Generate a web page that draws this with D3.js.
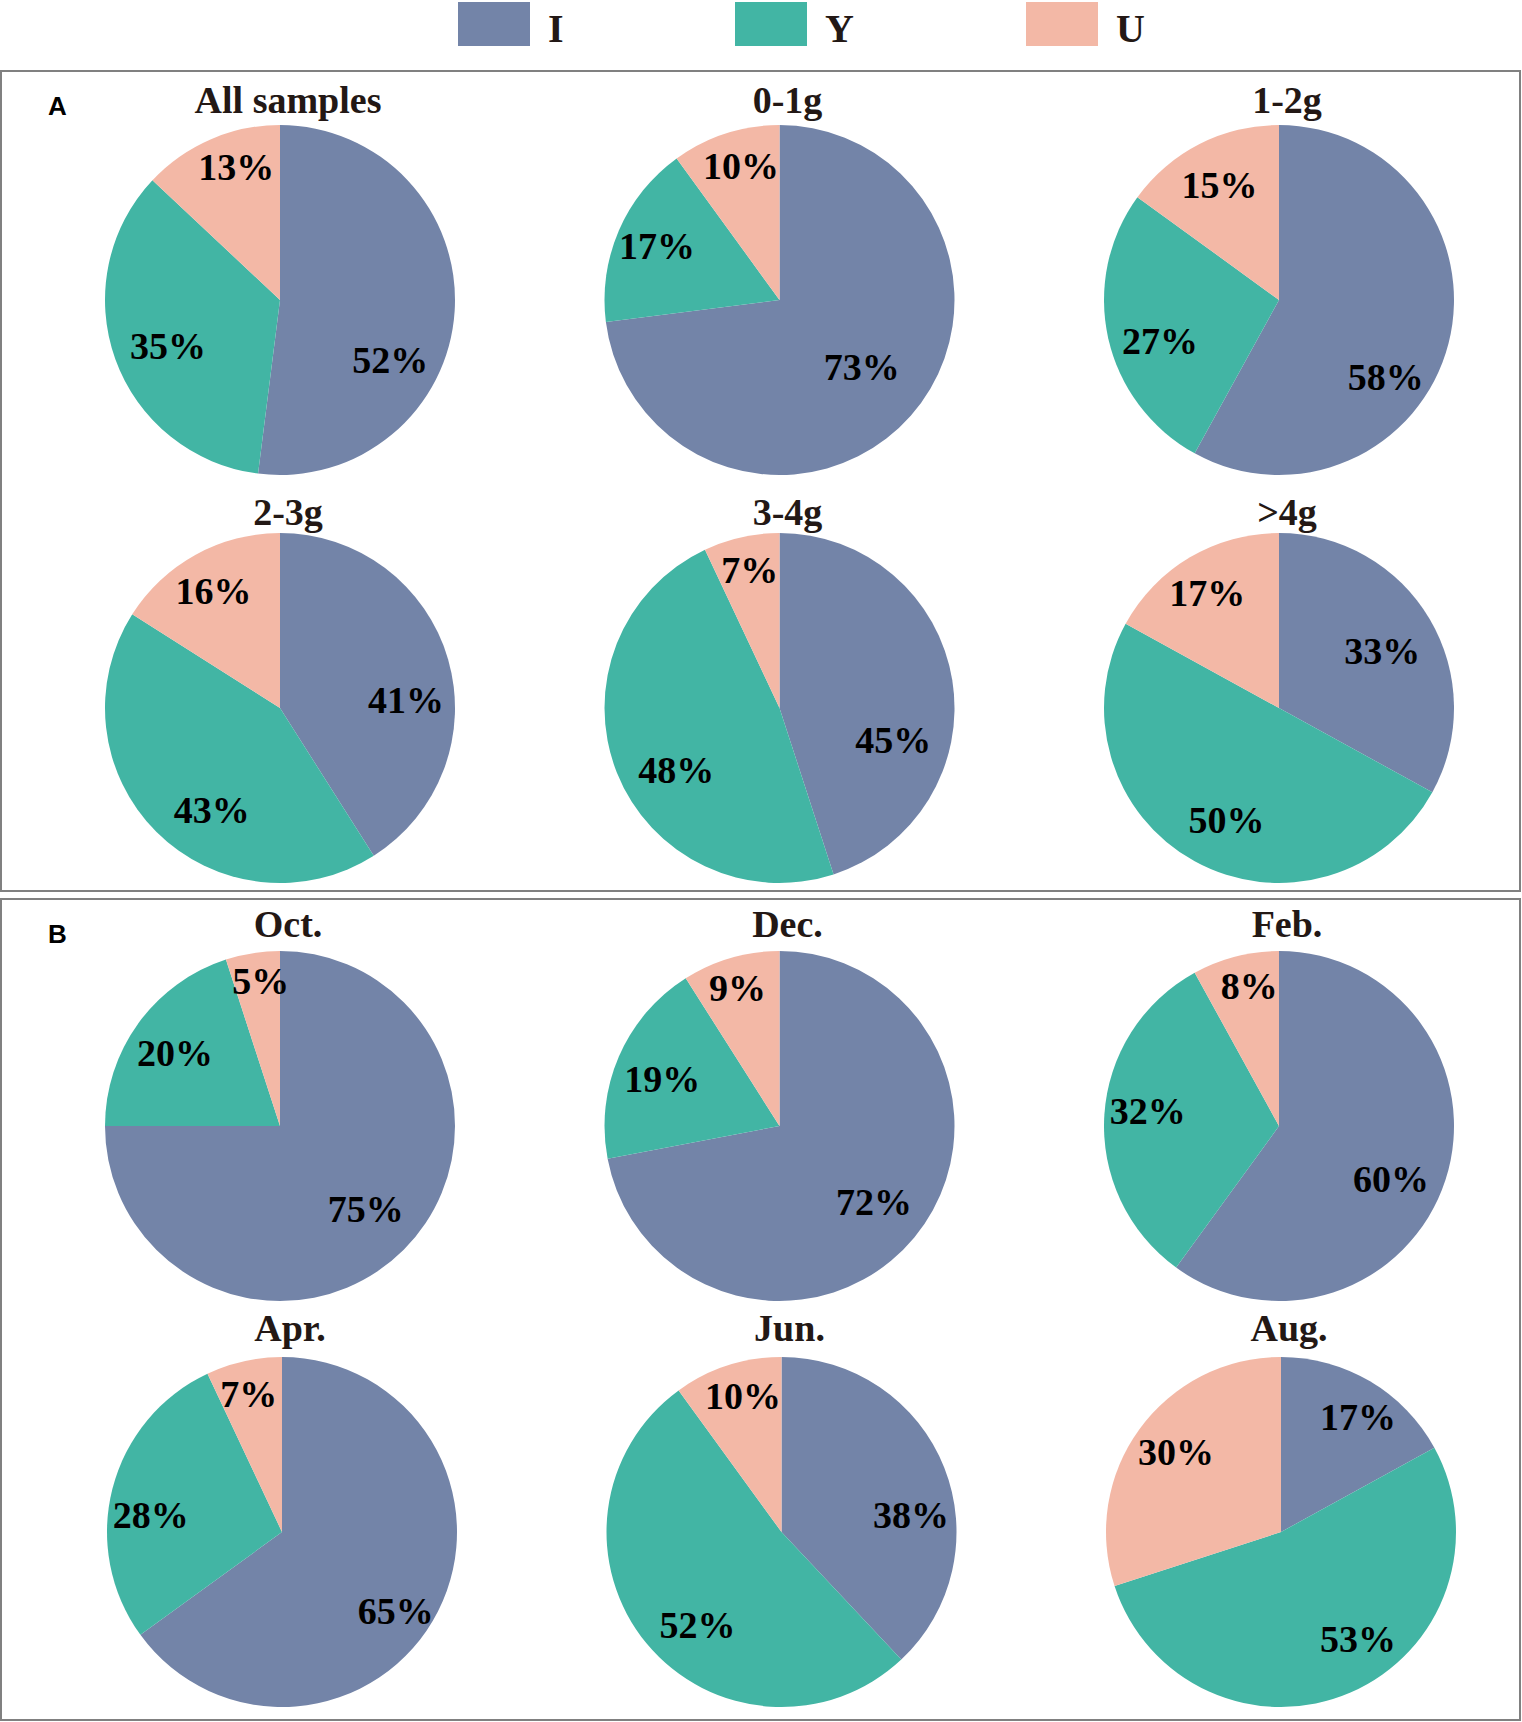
<!DOCTYPE html>
<html>
<head>
<meta charset="utf-8">
<script src="https://d3js.org/d3.v7.min.js"></script>
<style>
  body { margin: 0; background: #fff; }
</style>
</head>
<body>
<div class="canvas"></div>
<script>
// Chart data: share (%) of each group per pie
const groups = ['I', 'Y', 'U'];
const colors = ['#7384a8', '#42b5a4', '#f3b8a6'];
const titles = ['All samples', '0-1g', '1-2g', '2-3g', '3-4g', '>4g',
                'Oct.', 'Dec.', 'Feb.', 'Apr.', 'Jun.', 'Aug.'];
const valuesI = [52, 73, 58, 41, 45, 33, 75, 72, 60, 65, 38, 17];
const valuesY = [35, 17, 27, 43, 48, 50, 20, 19, 32, 28, 52, 53];
const valuesU = [13, 10, 15, 16, 7, 17, 5, 9, 8, 7, 10, 30];

// Where each % label sits, as a fraction of the radius from the pie centre (I, Y, U)
const labelSpots = [
    [[0.63, 0.34], [-0.64, 0.26], [-0.25, -0.76]],
    [[0.47, 0.38], [-0.70, -0.31], [-0.22, -0.77]],
    [[0.61, 0.44], [-0.68, 0.23], [-0.34, -0.66]],
    [[0.72, -0.05], [-0.39, 0.58], [-0.38, -0.67]],
    [[0.65, 0.18], [-0.59, 0.35], [-0.17, -0.79]],
    [[0.59, -0.33], [-0.30, 0.64], [-0.41, -0.66]],
    [[0.49, 0.47], [-0.60, -0.42], [-0.11, -0.83]],
    [[0.54, 0.43], [-0.67, -0.27], [-0.24, -0.79]],
    [[0.64, 0.30], [-0.75, -0.09], [-0.17, -0.80]],
    [[0.65, 0.45], [-0.75, -0.10], [-0.19, -0.79]],
    [[0.74, -0.10], [-0.48, 0.53], [-0.22, -0.78]],
    [[0.44, -0.66], [0.44, 0.61], [-0.60, -0.46]]
];

const width = 1522;
const height = 1722;
const radius = 175;
const serif = '"Liberation Serif", "Times New Roman", serif';

const svg = d3.select('.canvas')
                .append('svg')
                .attr('width', width)
                .attr('height', height);

// Panel frames
const panels = [{ tag: 'A', y: 71, h: 820 }, { tag: 'B', y: 899, h: 821 }];
svg.selectAll('rect.panel')
    .data(panels)
    .enter()
    .append('rect')
    .attr('class', 'panel')
    .attr('x', 1)
    .attr('y', d => d.y)
    .attr('width', width - 3)
    .attr('height', d => d.h)
    .attr('fill', 'none')
    .attr('stroke', '#808080')
    .attr('stroke-width', 2);

svg.selectAll('text.tag')
    .data(panels)
    .enter()
    .append('text')
    .attr('class', 'tag')
    .attr('x', 48)
    .attr('y', d => d.y + 44)
    .attr('font-family', '"Liberation Sans", Arial, sans-serif')
    .attr('font-weight', 'bold')
    .attr('font-size', 26)
    .text(d => d.tag);

// Legend
const legendX = d3.scaleOrdinal()
                    .domain(groups)
                    .range([458, 735, 1026]);

const legend = svg.selectAll('g.legend')
                    .data(groups)
                    .enter()
                    .append('g')
                    .attr('class', 'legend')
                    .attr('transform', d => `translate(${legendX(d)}, 2)`);

legend.append('rect')
        .attr('width', 72)
        .attr('height', 44)
        .attr('fill', (d, i) => colors[i]);

legend.append('text')
        .attr('x', 90)
        .attr('y', 40)
        .attr('font-family', serif)
        .attr('font-weight', 'bold')
        .attr('font-size', 40)
        .attr('fill', '#231815')
        .text(d => d);

// Pie grid: 3 columns, 4 rows (2 per panel)
const colX = d3.scalePoint()
                .domain([0, 1, 2])
                .range([280, 1279]);
const rowY = [300, 708, 1126, 1532];
const titleGap = [12, 8, 14, 16];

const pie = d3.pie()
                .sort(null)
                .value(d => d.value);

const arc = d3.arc()
                .innerRadius(0)
                .outerRadius(radius);

titles.forEach((title, k) => {
    const row = Math.floor(k / 3);
    const cx = colX(k % 3) + (row === 3 ? 2 : 0);
    const cy = rowY[row];
    const slices = groups.map((g, i) => ({
        group: g,
        value: [valuesI, valuesY, valuesU][i][k]
    }));

    const chart = svg.append('g')
                        .attr('transform', `translate(${cx}, ${cy})`);

    chart.selectAll('path')
        .data(pie(slices))
        .enter()
        .append('path')
        .attr('d', arc)
        .attr('fill', (d, i) => colors[i]);

    chart.selectAll('text.pct')
        .data(pie(slices))
        .enter()
        .append('text')
        .attr('class', 'pct')
        .attr('x', (d, i) => labelSpots[k][i][0] * radius)
        .attr('y', (d, i) => labelSpots[k][i][1] * radius)
        .attr('dy', '0.35em')
        .attr('text-anchor', 'middle')
        .attr('font-family', serif)
        .attr('font-weight', 'bold')
        .attr('font-size', 38)
        .attr('fill', '#000')
        .text(d => d.data.value + '%');

    chart.append('text')
        .attr('x', 8)
        .attr('y', -radius - titleGap[row])
        .attr('text-anchor', 'middle')
        .attr('font-family', serif)
        .attr('font-weight', 'bold')
        .attr('font-size', 38)
        .attr('fill', '#231815')
        .text(title);
});
</script>
</body>
</html>
